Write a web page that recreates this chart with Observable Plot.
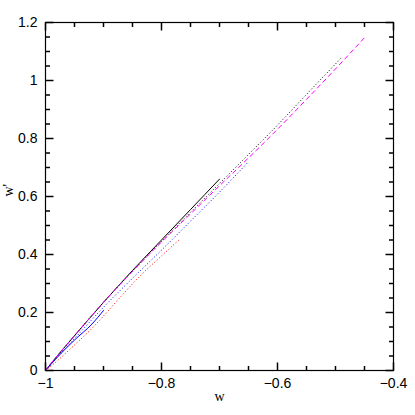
<!DOCTYPE html>
<html>
<head>
<meta charset="utf-8">
<script src="https://cdn.jsdelivr.net/npm/d3@7"></script>
<script src="https://cdn.jsdelivr.net/npm/@observablehq/plot@0.6"></script>
<style>
  html, body { margin: 0; padding: 0; background: #fff; }
</style>
</head>
<body>
<div id="chart"></div>
<script>
// ---- data ----
const blackSolidW  = [-1, -0.98, -0.95, -0.9, -0.85, -0.8, -0.75, -0.7];
const blackSolidWp = [0, 0.05, 0.12, 0.235, 0.345, 0.45, 0.555, 0.66];

const blueSolidW  = [-1, -0.98, -0.95, -0.92, -0.9];
const blueSolidWp = [0, 0.045, 0.105, 0.16, 0.207];

const redDotW  = [-1, -0.98, -0.95, -0.92, -0.9, -0.87, -0.84, -0.8, -0.77];
const redDotWp = [0, 0.033, 0.088, 0.145, 0.188, 0.255, 0.32, 0.395, 0.45];

const blueDotW  = [-1, -0.95, -0.9, -0.85, -0.8, -0.75, -0.7, -0.65];
const blueDotWp = [0, 0.11, 0.218, 0.318, 0.415, 0.515, 0.615, 0.72];

const blackDotW  = [-1, -0.9, -0.8, -0.7, -0.65, -0.6, -0.55, -0.49];
const blackDotWp = [0, 0.235, 0.445, 0.645, 0.745, 0.846, 0.952, 1.078];

const magentaW  = [-1, -0.98, -0.95, -0.9, -0.85, -0.8, -0.75, -0.7, -0.65, -0.6, -0.55, -0.5, -0.448];
const magentaWp = [0, 0.05, 0.12, 0.235, 0.342, 0.443, 0.54, 0.637, 0.733, 0.832, 0.935, 1.04, 1.152];

const xMajor = [-1, -0.8, -0.6, -0.4];
const xMinor = [-0.95, -0.9, -0.85, -0.75, -0.7, -0.65, -0.55, -0.5, -0.45];
const yMajor = [0, 0.2, 0.4, 0.6, 0.8, 1, 1.2];
const yMinor = [0.05, 0.1, 0.15, 0.25, 0.3, 0.35, 0.45, 0.5, 0.55, 0.65, 0.7, 0.75, 0.85, 0.9, 0.95, 1.05, 1.1, 1.15];

const xTitle = ["w"];
const yTitle = ["w'"];

const series = (ws, wps) => ws.map((w, i) => ({w, wp: wps[i]}));

const W = 415, H = 415, mL = 45, mR = 22, mT = 22, mB = 45;
const innerW = W - mL - mR, innerH = H - mT - mB;
const xDom = [-1, -0.4], yDom = [0, 1.2];
const xPerPx = (xDom[1] - xDom[0]) / innerW, yPerPx = (yDom[1] - yDom[0]) / innerH;
const tickFont = "'Liberation Sans', Arial, sans-serif";
const serif = "'Liberation Serif', 'Times New Roman', serif";
const fmt = d3.format("");

// inward tick segments on all four sides (tick length in px converted to data units)
const tickSegs = [];
let id = 0;
for (const [vals, len] of [[xMajor, 8], [xMinor, 4.5]]) {
  for (const v of vals) {
    id++; tickSegs.push({id, w: v, wp: yDom[0]}, {id, w: v, wp: yDom[0] + len * yPerPx});
    id++; tickSegs.push({id, w: v, wp: yDom[1]}, {id, w: v, wp: yDom[1] - len * yPerPx});
  }
}
for (const [vals, len] of [[yMajor, 8], [yMinor, 4.5]]) {
  for (const v of vals) {
    id++; tickSegs.push({id, w: xDom[0], wp: v}, {id, w: xDom[0] + len * xPerPx, wp: v});
    id++; tickSegs.push({id, w: xDom[1], wp: v}, {id, w: xDom[1] - len * xPerPx, wp: v});
  }
}

const chart = Plot.plot({
  width: W,
  height: H,
  marginLeft: mL,
  marginRight: mR,
  marginTop: mT,
  marginBottom: mB,
  style: {fontFamily: tickFont, fontSize: "14px", color: "#000", background: "#fff"},
  x: {domain: xDom},
  y: {domain: yDom},
  marks: [
    Plot.frame({stroke: "#000", strokeWidth: 1.2}),
    Plot.axisX({anchor: "bottom", ticks: xMajor, tickSize: 0, tickPadding: 8, tickFormat: fmt, label: null, fontSize: 14, fill: "#000"}),
    Plot.axisY({anchor: "left", ticks: yMajor, tickSize: 0, tickPadding: 8, tickFormat: fmt, label: null, fontSize: 14, fill: "#000"}),
    Plot.line(series(blackSolidW, blackSolidWp), {x: "w", y: "wp", stroke: "#000", strokeWidth: 1, curve: "monotone-x"}),
    Plot.line(series(blueSolidW, blueSolidWp), {x: "w", y: "wp", stroke: "#0000ff", strokeWidth: 1, curve: "monotone-x"}),
    Plot.line(series(redDotW, redDotWp), {x: "w", y: "wp", stroke: "#ff0000", strokeWidth: 1, strokeDasharray: "1,2.2", strokeLinecap: "butt", curve: "monotone-x"}),
    Plot.line(series(blueDotW, blueDotWp), {x: "w", y: "wp", stroke: "#0000ff", strokeWidth: 1, strokeDasharray: "1,2.2", strokeLinecap: "butt", curve: "monotone-x"}),
    Plot.line(series(blackDotW, blackDotWp), {x: "w", y: "wp", stroke: "#000", strokeWidth: 1, strokeDasharray: "1,2.2", strokeLinecap: "butt", curve: "monotone-x"}),
    Plot.line(series(magentaW, magentaWp), {x: "w", y: "wp", stroke: "#ff00ff", strokeWidth: 1, strokeDasharray: "5,3", strokeLinecap: "butt", curve: "monotone-x"}),
    Plot.line(tickSegs, {x: "w", y: "wp", z: "id", stroke: "#000", strokeWidth: 1.5, strokeLinecap: "butt", strokeOpacity: 1}),
    Plot.text(xTitle, {text: d => d, frameAnchor: "bottom", dy: 30, fontFamily: serif, fontSize: 14, fill: "#000"}),
    Plot.text(yTitle, {text: d => d, frameAnchor: "left", dx: -37, rotate: -90, fontFamily: serif, fontSize: 14, fill: "#000"})
  ]
});
document.getElementById("chart").appendChild(chart);
</script>
</body>
</html>
